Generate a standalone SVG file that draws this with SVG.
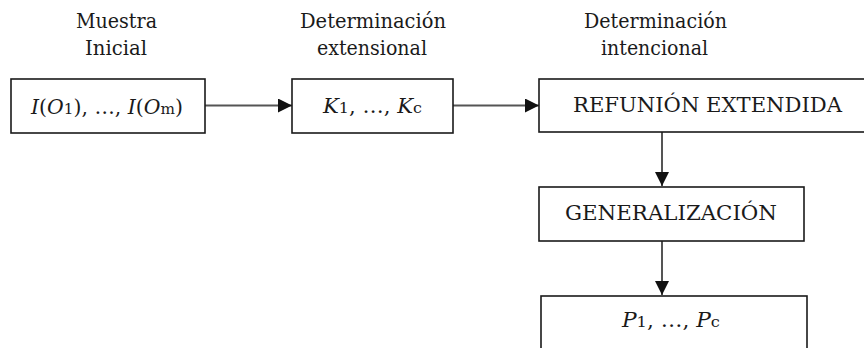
<svg xmlns="http://www.w3.org/2000/svg" width="864" height="348" viewBox="0 0 864 348">
<style>
  .box { fill: #fff; stroke: #1a1a1a; stroke-width: 1.6; }
  text { font-family: "DejaVu Serif", "Liberation Serif", serif; font-size: 20px; fill: #1a1a1a; }
  .it { font-style: italic; }
  .sub { font-size: 15px; }
  .conn { stroke: #555; stroke-width: 2; fill: none; }
</style>
<defs>
  <marker id="arr" markerUnits="userSpaceOnUse" markerWidth="14" markerHeight="14" viewBox="0 0 14 14" refX="14" refY="7" orient="auto">
    <path d="M0,0 L14,7 L0,14 Z" fill="#111"/>
  </marker>
</defs>
<rect width="864" height="348" fill="#fff"/>

<g id="labels">
  <text x="76" y="28" textLength="81" lengthAdjust="spacingAndGlyphs">Muestra</text>
  <text x="85" y="55" textLength="62" lengthAdjust="spacingAndGlyphs">Inicial</text>
  <text x="300" y="28" textLength="146" lengthAdjust="spacingAndGlyphs">Determinación</text>
  <text x="317" y="55" textLength="110" lengthAdjust="spacingAndGlyphs">extensional</text>
  <text x="584" y="28" textLength="143" lengthAdjust="spacingAndGlyphs">Determinación</text>
  <text x="601" y="55" textLength="107" lengthAdjust="spacingAndGlyphs">intencional</text>
</g>

<g id="connectors">
  <line class="conn" x1="205" y1="105.5" x2="292" y2="105.5" marker-end="url(#arr)"/>
  <line class="conn" x1="453" y1="105.5" x2="539" y2="105.5" marker-end="url(#arr)"/>
  <line class="conn" x1="662" y1="132" x2="662" y2="186" marker-end="url(#arr)"/>
  <line class="conn" x1="662" y1="241" x2="662" y2="295" marker-end="url(#arr)"/>
</g>

<g id="node-muestra">
  <rect class="box" x="11" y="79" width="194" height="54"/>
  <text x="31" y="114" textLength="152" lengthAdjust="spacingAndGlyphs"><tspan class="it">I</tspan>(<tspan class="it">O</tspan><tspan class="sub">1</tspan>), …, <tspan class="it">I</tspan>(<tspan class="it">O</tspan><tspan class="sub">m</tspan>)</text>
</g>

<g id="node-extensional">
  <rect class="box" x="292" y="79" width="161" height="54"/>
  <text x="323" y="113" textLength="99" lengthAdjust="spacingAndGlyphs"><tspan class="it">K</tspan><tspan class="sub">1</tspan>, …, <tspan class="it">K</tspan><tspan class="sub">c</tspan></text>
</g>

<g id="node-refunion">
  <rect class="box" x="539" y="79" width="340" height="53"/>
  <text x="573" y="112" textLength="269" lengthAdjust="spacingAndGlyphs">REFUNIÓN EXTENDIDA</text>
</g>

<g id="node-generalizacion">
  <rect class="box" x="539" y="187" width="265" height="54"/>
  <text x="565" y="220" textLength="212" lengthAdjust="spacingAndGlyphs">GENERALIZACIÓN</text>
</g>

<g id="node-resultado">
  <rect class="box" x="541" y="296" width="266" height="60"/>
  <text x="622" y="327" textLength="98" lengthAdjust="spacingAndGlyphs"><tspan class="it">P</tspan><tspan class="sub">1</tspan>, …, <tspan class="it">P</tspan><tspan class="sub">c</tspan></text>
</g>
</svg>
